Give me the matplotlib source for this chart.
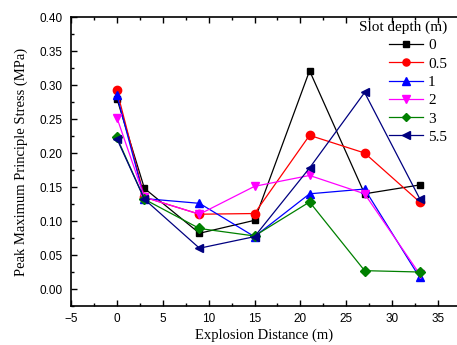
import matplotlib
matplotlib.use('Agg')
import matplotlib.pyplot as plt
from matplotlib.ticker import MultipleLocator

distance = [0, 3, 9, 15, 21, 27, 33]
depths = ['0', '0.5', '1', '2', '3', '5.5']

stress_0 = [0.280, 0.148, 0.082, 0.101, 0.321, 0.140, 0.153]
stress_05 = [0.292, 0.135, 0.110, 0.111, 0.226, 0.200, 0.128]
stress_1 = [0.285, 0.133, 0.126, 0.077, 0.140, 0.147, 0.017]
stress_2 = [0.252, 0.135, 0.110, 0.151, 0.167, 0.140, 0.022]
stress_3 = [0.223, 0.132, 0.089, 0.078, 0.128, 0.027, 0.025]
stress_55 = [0.221, 0.132, 0.060, 0.077, 0.178, 0.289, 0.133]

series = [stress_0, stress_05, stress_1, stress_2, stress_3, stress_55]
colors = ['black', 'red', 'blue', 'magenta', 'green', 'navy']
markers = ['s', 'o', '^', 'v', 'D', '<']
msizes = [5, 6, 6, 6, 5, 6]

fig = plt.figure(figsize=(4.57, 3.45), dpi=100)
ax = fig.add_axes([0.1554, 0.113, 0.8446, 0.8377])

for vals, lab, c, m, ms in zip(series, depths, colors, markers, msizes):
    ax.plot(distance, vals, color=c, marker=m, markersize=ms, linewidth=0.9, label=lab)

ax.set_xlim(-5, 37.07)
ax.xaxis.set_major_locator(MultipleLocator(5))
ax.xaxis.set_minor_locator(MultipleLocator(2.5))
ax.yaxis.set_minor_locator(MultipleLocator(0.025))
ax.tick_params(which='both', direction='in', top=True, right=False,
               labelsize=8.5, labelfontfamily='Liberation Sans', width=1)
ax.tick_params(which='major', length=4)
ax.tick_params(which='minor', length=2.5)
ax.tick_params(axis='y', which='major', pad=6)
ax.tick_params(axis='x', which='major', pad=5)
ax.spines['right'].set_visible(False)
for s in ['left', 'bottom', 'top']:
    ax.spines[s].set_linewidth(1.2)
ax.set_ylim(-0.025, 0.40)
ax.set_yticks([0.0, 0.05, 0.10, 0.15, 0.20, 0.25, 0.30, 0.35, 0.40])
ax.set_yticklabels(['%.2f' % v for v in ax.get_yticks()])

ax.set_xlabel('Explosion Distance (m)', fontfamily='Liberation Serif', fontsize=10.5, labelpad=2.5)
ax.set_ylabel('Peak Maximum Principle Stress (MPa)', fontfamily='Liberation Serif', fontsize=10.5, labelpad=8)

leg = ax.legend(title='Slot depth (m)', loc='upper right', bbox_to_anchor=(1.01, 1.035),
                frameon=False, handlelength=2.2, handletextpad=0.35, labelspacing=0.3,
                markerscale=0.85, prop={'family': 'Liberation Serif', 'size': 11})
leg.get_title().set_fontfamily('Liberation Serif')
leg.get_title().set_fontsize(11)
leg._legend_box.align = 'right'

fig.savefig('out.png', dpi=100)
